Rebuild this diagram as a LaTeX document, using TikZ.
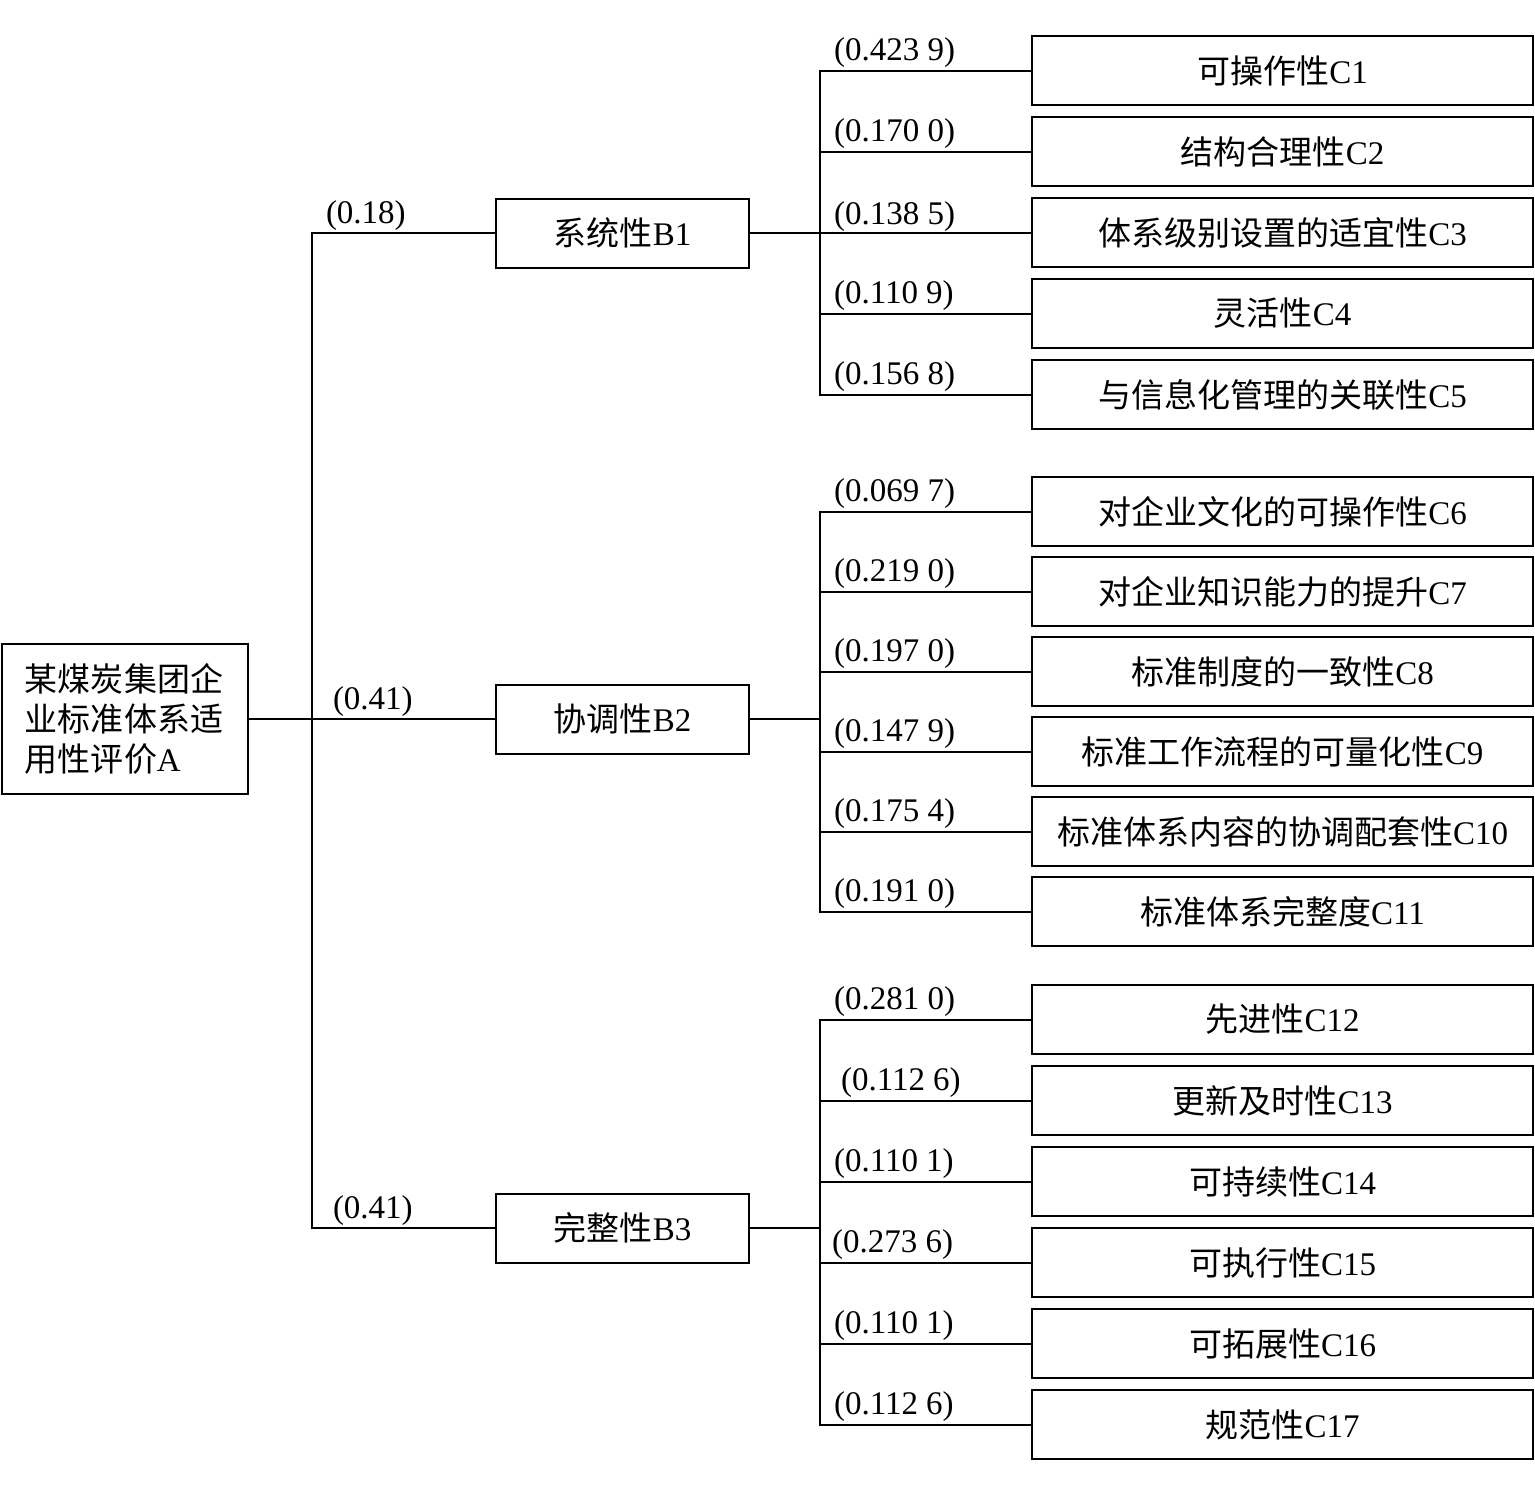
\documentclass[tikz,border=0pt]{standalone}
\usepackage{fontspec}
\setmainfont{Liberation Serif}
\newfontfamily\cjk{Noto Sans CJK SC}

\tikzstyle{goal}=[draw, line width=1pt, minimum width=123pt, minimum height=75pt, text width=100pt, align=left, inner sep=0pt]
\tikzstyle{crit}=[draw, line width=1pt, minimum width=126.5pt, minimum height=34.5pt, inner sep=0pt]
\tikzstyle{item}=[draw, line width=1pt, minimum width=250.5pt, minimum height=34.5pt, inner sep=0pt]
\tikzstyle{weight}=[anchor=base west, inner sep=0pt, xshift=6.5pt, yshift=5pt]
\tikzstyle{link}=[line width=1pt]

\begin{document}
\begin{tikzpicture}[x=0.5pt, y=-0.5pt, font=\fontsize{16.5}{20}\selectfont]
            \useasboundingbox (0,0) rectangle (1535,1496);
            % goal and criteria
            \node[goal] at (125,719) (A) {{\cjk 某煤炭集团企}\\{\cjk 业标准体系适}\\{\cjk 用性评价}A};
            \node[crit] at (622.5,233) (B1) {{\cjk 系统性}B1};
            \node[crit] at (622.5,719) (B2) {{\cjk 协调性}B2};
            \node[crit] at (622.5,1228) (B3) {{\cjk 完整性}B3};
            \coordinate (j0) at (312,719);
            \coordinate (j1) at (820,233);
            \coordinate (j2) at (820,719);
            \coordinate (j3) at (820,1228);
            % indicators
            \node[item] at (1282.5,70.5) (C1) {{\cjk 可操作性}C1};
            \node[item] at (1282.5,151.5) (C2) {{\cjk 结构合理性}C2};
            \node[item] at (1282.5,232.5) (C3) {{\cjk 体系级别设置的适宜性}C3};
            \node[item] at (1282.5,313.5) (C4) {{\cjk 灵活性}C4};
            \node[item] at (1282.5,394.5) (C5) {{\cjk 与信息化管理的关联性}C5};
            \node[item] at (1282.5,511.5) (C6) {{\cjk 对企业文化的可操作性}C6};
            \node[item] at (1282.5,591.5) (C7) {{\cjk 对企业知识能力的提升}C7};
            \node[item] at (1282.5,671.5) (C8) {{\cjk 标准制度的一致性}C8};
            \node[item] at (1282.5,751.5) (C9) {{\cjk 标准工作流程的可量化性}C9};
            \node[item] at (1282.5,831.5) (C10) {{\cjk 标准体系内容的协调配套性}C10};
            \node[item] at (1282.5,911.5) (C11) {{\cjk 标准体系完整度}C11};
            \node[item] at (1282.5,1019.5) (C12) {{\cjk 先进性}C12};
            \node[item] at (1282.5,1100.5) (C13) {{\cjk 更新及时性}C13};
            \node[item] at (1282.5,1181.5) (C14) {{\cjk 可持续性}C14};
            \node[item] at (1282.5,1262.5) (C15) {{\cjk 可执行性}C15};
            \node[item] at (1282.5,1343.5) (C16) {{\cjk 可拓展性}C16};
            \node[item] at (1282.5,1424.5) (C17) {{\cjk 规范性}C17};
            % goal to criteria
            \draw[link] (A.east) -- (j0) |- node[weight]{(0.18)} (B1.west);
            \draw[link] (j0) |- node[weight, xshift=3.5pt]{(0.41)} (B2.west);
            \draw[link] (j0) |- node[weight, xshift=3.5pt]{(0.41)} (B3.west);
            % criteria to indicators
            \draw[link] (B1.east) -- (j1) |- node[weight]{(0.423 9)} (C1.west);
            \draw[link] (j1) |- node[weight]{(0.170 0)} (C2.west);
            \draw[link] (j1) |- node[weight, yshift=-1pt]{(0.138 5)} (C3.west);
            \draw[link] (j1) |- node[weight]{(0.110 9)} (C4.west);
            \draw[link] (j1) |- node[weight]{(0.156 8)} (C5.west);
            \draw[link] (B2.east) -- (j2) |- node[weight]{(0.069 7)} (C6.west);
            \draw[link] (j2) |- node[weight]{(0.219 0)} (C7.west);
            \draw[link] (j2) |- node[weight]{(0.197 0)} (C8.west);
            \draw[link] (j2) |- node[weight]{(0.147 9)} (C9.west);
            \draw[link] (j2) |- node[weight]{(0.175 4)} (C10.west);
            \draw[link] (j2) |- node[weight]{(0.191 0)} (C11.west);
            \draw[link] (B3.east) -- (j3) |- node[weight]{(0.281 0)} (C12.west);
            \draw[link] (j3) |- node[weight, xshift=3.5pt]{(0.112 6)} (C13.west);
            \draw[link] (j3) |- node[weight]{(0.110 1)} (C14.west);
            \draw[link] (j3) |- node[weight, xshift=-1pt]{(0.273 6)} (C15.west);
            \draw[link] (j3) |- node[weight]{(0.110 1)} (C16.west);
            \draw[link] (j3) |- node[weight]{(0.112 6)} (C17.west);
        \end{tikzpicture}
\end{document}
